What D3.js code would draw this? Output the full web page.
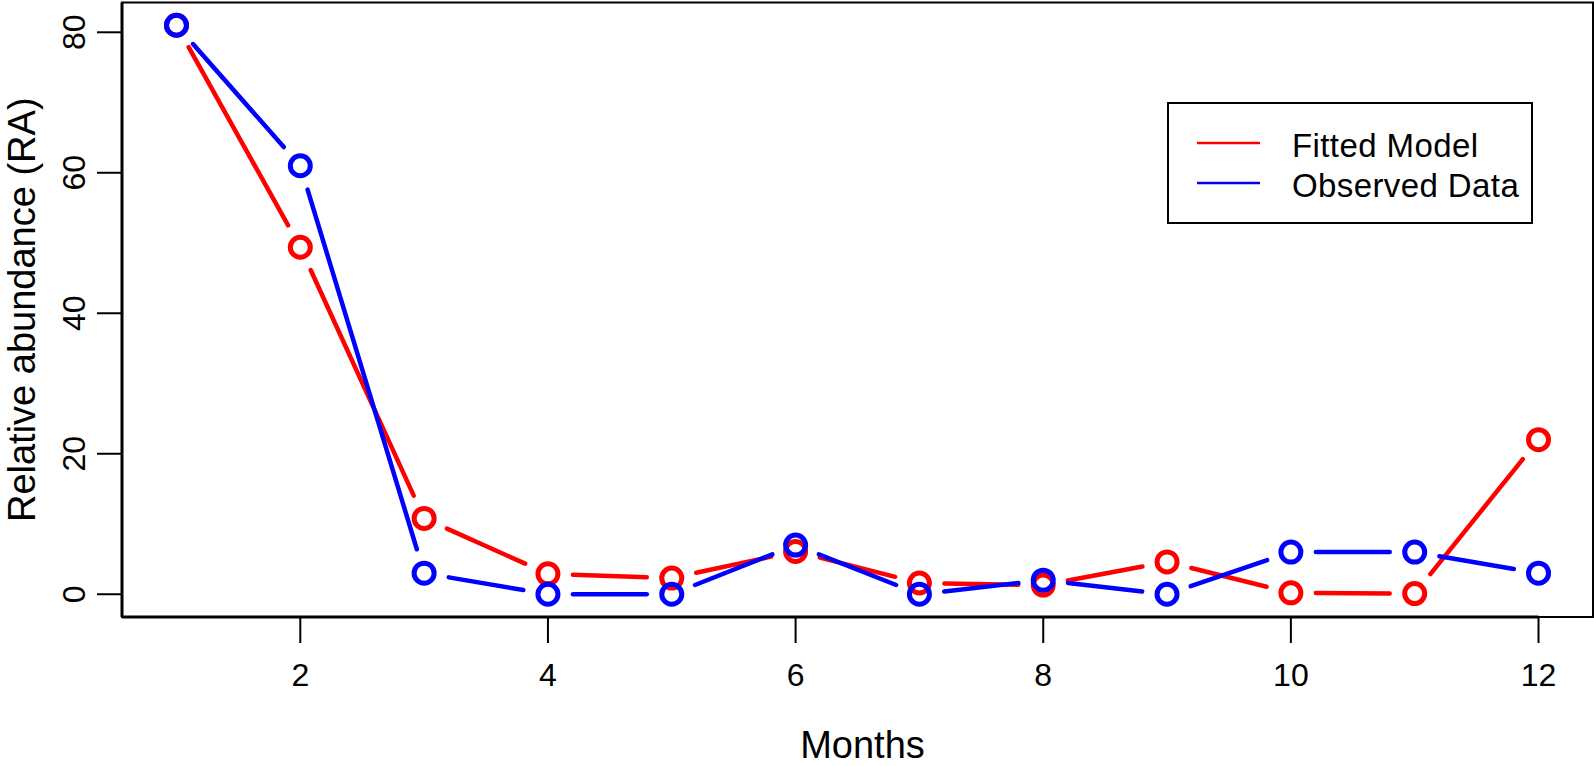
<!DOCTYPE html>
<html>
<head>
<meta charset="utf-8">
<script src="https://cdn.jsdelivr.net/npm/d3@7"></script>
<style>
  body { margin: 0; background: #fff; }
  svg text { font-family: "Liberation Sans", Arial, Helvetica, sans-serif; fill: #000; }
</style>
</head>
<body>
<div id="chart"></div>
<script>
// Datos
const months = [1, 2, 3, 4, 5, 6, 7, 8, 9, 10, 11, 12];
const fitted = [81, 49.4, 10.8, 2.9, 2.3, 6.1, 1.6, 1.3, 4.6, 0.2, 0.1, 22];
const observed = [81, 61, 3, 0, 0, 7, 0, 2, 0, 6, 6, 3];
const xTicks = [2, 4, 6, 8, 10, 12];
const yTicks = [0, 20, 40, 60, 80];
const seriesNames = ["Fitted Model", "Observed Data"];
const seriesColors = ["#ff0000", "#0000ff"];

const width = 1594;
const height = 766;

const svg = d3.select("#chart")
    .append("svg")
    .attr("width", width)
    .attr("height", height);

// Escalas (rango extendido 4% como en R)
const x = d3.scaleLinear().domain([0.56, 12.44]).range([122, 1593]);
const y = d3.scaleLinear().domain([-3.24, 84.24]).range([617, 2.5]);

// Caja del gráfico
svg.append("rect")
    .attr("x", x(0.56))
    .attr("y", y(84.24))
    .attr("width", x(12.44) - x(0.56))
    .attr("height", y(-3.24) - y(84.24))
    .attr("fill", "none")
    .attr("stroke", "#000")
    .attr("stroke-width", 2);

// Eje X
svg.append("line")
    .attr("x1", x(0.56)).attr("x2", x(12))
    .attr("y1", y(-3.24)).attr("y2", y(-3.24))
    .attr("stroke", "#000").attr("stroke-width", 3);

svg.selectAll(".xtick")
    .data(xTicks)
    .enter()
    .append("line")
    .attr("x1", d => x(d)).attr("x2", d => x(d))
    .attr("y1", y(-3.24)).attr("y2", y(-3.24) + 26)
    .attr("stroke", "#000").attr("stroke-width", 2);

svg.selectAll(".xlabel")
    .data(xTicks)
    .enter()
    .append("text")
    .attr("x", d => x(d))
    .attr("y", 686)
    .attr("text-anchor", "middle")
    .style("font-size", "32px")
    .text(d => d);

// Eje Y
svg.append("line")
    .attr("x1", x(0.56)).attr("x2", x(0.56))
    .attr("y1", y(84.24)).attr("y2", y(-3.24))
    .attr("stroke", "#000").attr("stroke-width", 3);

svg.selectAll(".ytick")
    .data(yTicks)
    .enter()
    .append("line")
    .attr("x1", x(0.56) - 25).attr("x2", x(0.56))
    .attr("y1", d => y(d)).attr("y2", d => y(d))
    .attr("stroke", "#000").attr("stroke-width", 2);

svg.selectAll(".ylabel")
    .data(yTicks)
    .enter()
    .append("text")
    .attr("transform", d => `translate(85,${y(d)}) rotate(-90)`)
    .attr("text-anchor", "middle")
    .style("font-size", "32px")
    .text(d => d);

// Títulos de ejes
svg.append("text")
    .attr("x", (x(0.56) + x(12.44)) / 2 + 5)
    .attr("y", 758)
    .attr("text-anchor", "middle")
    .style("font-size", "38px")
    .text("Months");

svg.append("text")
    .attr("transform", `translate(35,${(y(84.24) + y(-3.24)) / 2}) rotate(-90)`)
    .attr("text-anchor", "middle")
    .style("font-size", "38px")
    .text("Relative abundance (RA)");

// Series tipo "b": segmentos con huecos alrededor de los puntos
const gap = 25;
function drawSeries(values, color) {
    const pts = months.map((m, i) => [x(m), y(values[i])]);
    const segs = [];
    for (let i = 0; i < pts.length - 1; i++) {
        const [x0, y0] = pts[i], [x1, y1] = pts[i + 1];
        const len = Math.hypot(x1 - x0, y1 - y0);
        if (len <= 2 * gap) continue;
        const ux = (x1 - x0) / len, uy = (y1 - y0) / len;
        segs.push([x0 + ux * gap, y0 + uy * gap, x1 - ux * gap, y1 - uy * gap]);
    }
    const g = svg.append("g");
    g.selectAll("line")
        .data(segs)
        .enter()
        .append("line")
        .attr("x1", d => d[0]).attr("y1", d => d[1])
        .attr("x2", d => d[2]).attr("y2", d => d[3])
        .attr("stroke", color)
        .attr("stroke-width", 4.5)
        .attr("stroke-linecap", "round");
    g.selectAll("circle")
        .data(pts)
        .enter()
        .append("circle")
        .attr("cx", d => d[0]).attr("cy", d => d[1])
        .attr("r", 10)
        .attr("fill", "none")
        .attr("stroke", color)
        .attr("stroke-width", 5);
}

drawSeries(fitted, seriesColors[0]);
drawSeries(observed, seriesColors[1]);

// Leyenda
const legend = svg.append("g");
legend.append("rect")
    .attr("x", 1168).attr("y", 103)
    .attr("width", 364).attr("height", 120)
    .attr("fill", "#fff")
    .attr("stroke", "#000")
    .attr("stroke-width", 2);

const items = legend.selectAll(".item")
    .data(seriesNames)
    .enter()
    .append("g")
    .attr("transform", (d, i) => `translate(0,${143 + i * 40})`);

items.append("line")
    .attr("x1", 1197).attr("x2", 1260)
    .attr("y1", 0).attr("y2", 0)
    .attr("stroke", (d, i) => seriesColors[i])
    .attr("stroke-width", 2.5);

items.append("text")
    .attr("x", 1292)
    .attr("y", 14)
    .style("font-size", "33px")
    .style("letter-spacing", "0.4px")
    .text(d => d);
</script>
</body>
</html>
